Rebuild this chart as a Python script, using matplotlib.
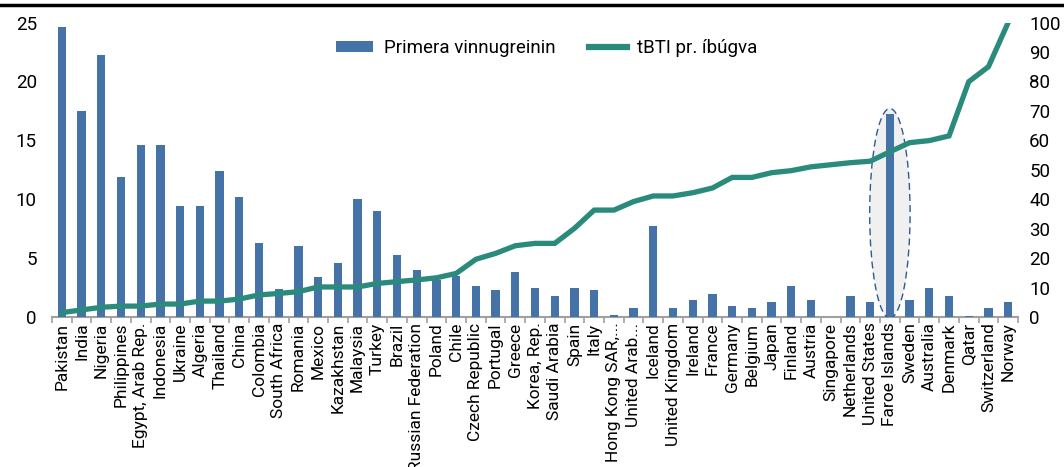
import numpy as np
import matplotlib
matplotlib.use("Agg")
import matplotlib.pyplot as plt
from matplotlib.patches import Ellipse
from matplotlib.lines import Line2D

plt.rcParams['font.family'] = ['Liberation Sans Narrow', 'Roboto', 'DejaVu Sans']

#_________ DATA _________
countries = ["Pakistan", "India", "Nigeria", "Philippines", "Egypt, Arab Rep.", "Indonesia",
             "Ukraine", "Algeria", "Thailand", "China", "Colombia", "South Africa", "Romania",
             "Mexico", "Kazakhstan", "Malaysia", "Turkey", "Brazil", "Russian Federation",
             "Poland", "Chile", "Czech Republic", "Portugal", "Greece", "Korea, Rep.",
             "Saudi Arabia", "Spain", "Italy", "Hong Kong SAR,...", "United Arab...", "Iceland",
             "United Kingdom", "Ireland", "France", "Germany", "Belgium", "Japan", "Finland",
             "Austria", "Singapore", "Netherlands", "United States", "Faroe Islands", "Sweden",
             "Australia", "Denmark", "Qatar", "Switzerland", "Norway"]

# primary sector share (left axis)
primera = [24.6, 17.5, 22.2, 11.9, 14.6, 14.6, 9.4, 9.4, 12.4, 10.2,
           6.3, 2.4, 6.0, 3.4, 4.6, 10.0, 9.0, 5.3, 4.0, 3.1,
           3.5, 2.6, 2.3, 3.8, 2.5, 1.8, 2.5, 2.3, 0.2, 0.75,
           7.7, 0.75, 1.45, 1.95, 0.95, 0.75, 1.3, 2.6, 1.45, 0.0,
           1.8, 1.3, 17.2, 1.45, 2.5, 1.8, 0.1, 0.75, 1.3]

# GDP per capita index (right axis)
tbti = [1.5, 2.4, 3.3, 3.7, 3.7, 4.4, 4.4, 5.4, 5.4, 6.1,
        7.5, 8.0, 8.6, 10.2, 10.2, 10.2, 11.4, 12.0, 12.6, 13.3,
        14.8, 19.6, 21.6, 24.2, 25.0, 25.0, 30.1, 36.3, 36.3, 39.2,
        41.1, 41.1, 42.2, 43.8, 47.4, 47.4, 49.0, 49.7, 51.0, 51.7,
        52.4, 52.9, 56.1, 59.2, 59.9, 61.5, 79.9, 85.0, 100.0]

highlight = "Faroe Islands"

bar_col = '#4673a7'
line_col = '#2a8b7c'
fs = 13.5

#_________ PLOT _________
fig = plt.figure(figsize=(10.64, 4.67), dpi=100)
ax = fig.add_axes([0.0489, 0.3212, 0.9079, 0.6306])
ax2 = ax.twinx()

x = np.arange(len(countries))
ax.bar(x, primera, width=0.42, color=bar_col, zorder=3, label='Primera vinnugreinin')
ax2.plot(x, tbti, color=line_col, lw=3.8, solid_joinstyle='miter', label='tBTI pr. íbúgva')
ax2.patch.set_visible(False)

# ellipse round the Faroe Islands bar
i = countries.index(highlight)
ell = Ellipse((i, primera[i] / 2 + 0.2), width=2.05, height=primera[i] + 0.6,
              facecolor='#f0f0f0', edgecolor='none', zorder=1)
ax.add_patch(ell)
ell2 = Ellipse((i, primera[i] / 2 + 0.2), width=2.05, height=primera[i] + 0.6,
               facecolor='none', edgecolor='#2f5a8f', lw=1.0, ls=(0, (5, 3)), zorder=4)
ax.add_patch(ell2)

ax.set_xlim(-0.5, len(countries) - 0.5)
ax.set_ylim(0, 25)
ax2.set_ylim(0, 100)
ax.set_yticks([0, 5, 10, 15, 20, 25])
ax2.set_yticks(np.arange(0, 101, 10))

for a in (ax, ax2):
    for s in ('top', 'left', 'right'):
        a.spines[s].set_visible(False)
    a.spines['bottom'].set_color('#a0a0a0')
    a.spines['bottom'].set_linewidth(1.5)
ax2.spines['bottom'].set_visible(False)

ax.tick_params(axis='y', length=0, pad=11, labelsize=fs, colors='black')
ax2.tick_params(axis='y', length=0, pad=8, labelsize=fs, colors='black')

ax.set_xticks(x)
ax.set_xticklabels(countries, rotation=90, fontsize=12.5)
ax.tick_params(axis='x', length=0, pad=4)
ax.set_xticks(np.arange(-0.5, len(countries), 1), minor=True)
ax.tick_params(axis='x', which='minor', length=4, width=1.2, color='#a0a0a0')

# legend
h1, l1 = ax.get_legend_handles_labels()
h2, l2 = ax2.get_legend_handles_labels()
h2 = [Line2D([0], [0], color=line_col, lw=4.5)]
ax2.legend(h1 + h2, l1 + l2, loc='upper center', bbox_to_anchor=(0.512, 1.0), ncol=2,
           frameon=False, fontsize=fs, handlelength=2.0, handleheight=0.5,
           handletextpad=0.55, columnspacing=1.8)

# black rule at top of figure
fig.add_artist(Line2D([0, 1], [0.989, 0.989], color='black', lw=2.5, transform=fig.transFigure))

fig.savefig('out.png', dpi=100)
